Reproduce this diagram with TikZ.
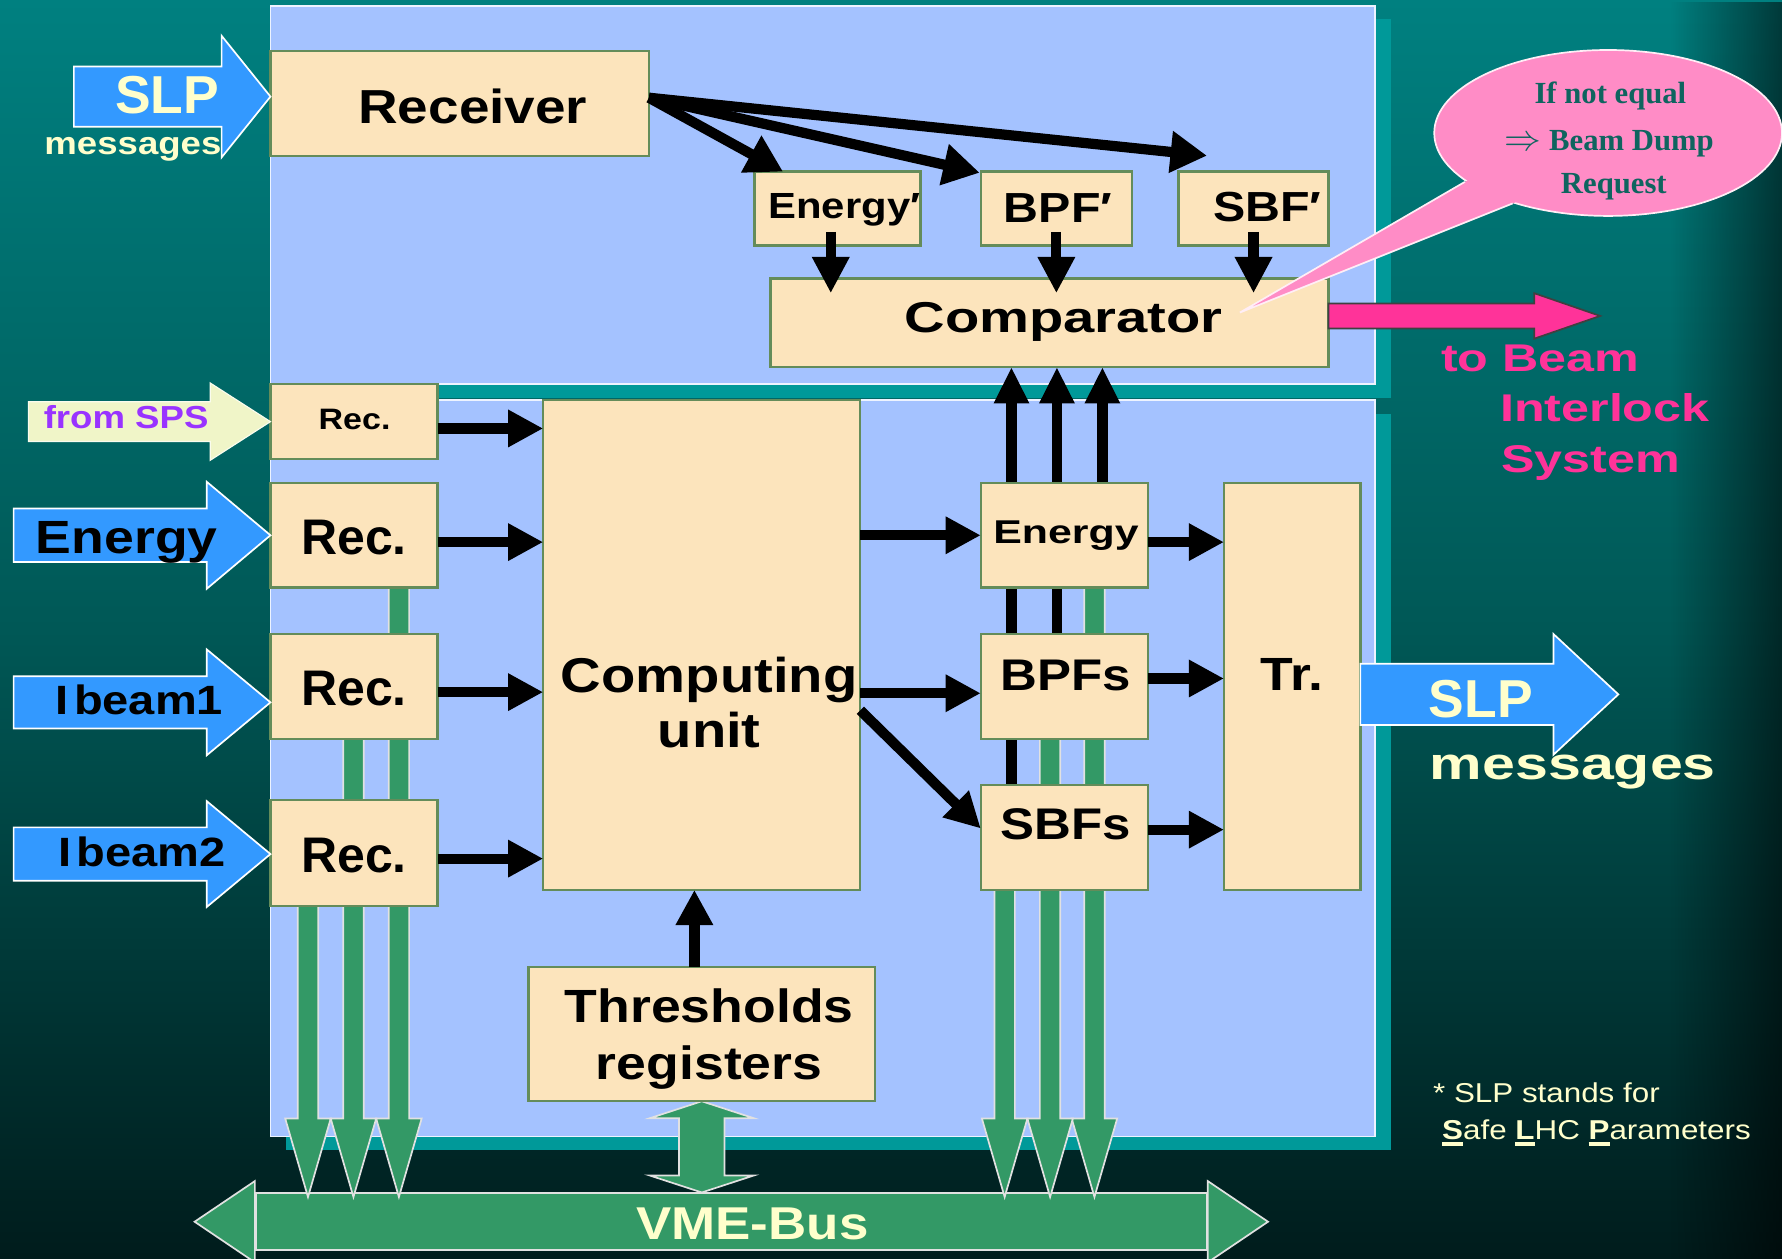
\documentclass[tikz,border=0pt]{standalone}
\usepackage{fontspec}
\usepackage{graphicx}
\setmainfont{Liberation Sans}
\newfontfamily\wide{Liberation Sans}[FakeStretch=1.15]
\newfontfamily\wider{Liberation Sans}[FakeStretch=1.3]
\newfontfamily\tms{Liberation Serif}
\usetikzlibrary{arrows.meta,calc,fadings}
\pgfdeclarelayer{bglayer}
\pgfsetlayers{bglayer,main}
\definecolor{bgtop}{RGB}{0,128,128}
\definecolor{bgmid}{RGB}{0,88,86}
\definecolor{bgbot}{RGB}{0,28,28}
\definecolor{panelblue}{RGB}{164,194,255}
\definecolor{shadowteal}{RGB}{0,153,153}
\definecolor{boxfill}{RGB}{252,228,188}
\definecolor{boxline}{RGB}{100,140,90}
\definecolor{busgreen}{RGB}{51,153,102}
\definecolor{busline}{RGB}{225,225,225}
\definecolor{arrowblue}{RGB}{51,153,255}
\definecolor{lightyel}{RGB}{255,255,204}
\definecolor{hotpink}{RGB}{255,51,153}
\definecolor{calloutpink}{RGB}{255,140,198}
\definecolor{callouttext}{RGB}{15,100,95}
\definecolor{spspurple}{RGB}{153,51,255}
\definecolor{spsyel}{RGB}{240,245,200}
\tikzfading[name=darkright, left color=transparent!100, right color=transparent!0]
\newcommand\fsz[1]{\fontsize{#1}{#1}\selectfont}
% block arrow: style, tip, total length, body half, head half, head length
\newcommand\blockarrow[6]{\path[#1] let \p1=(#2) in (\x1,\y1) -- (\x1-#6,\y1+#5) -- (\x1-#6,\y1+#4) -- (\x1-#3,\y1+#4) -- (\x1-#3,\y1-#4) -- (\x1-#6,\y1-#4) -- (\x1-#6,\y1-#5) -- cycle;}
\newcommand\busdown[1]{\path[busshape] let \p1=(#1), \p2=(vme.north) in (\x1-9pt,\y1) -- (\x1-9pt,\y2+65pt) -- (\x1-20pt,\y2+65pt) -- (\x1,\y2-4pt) -- (\x1+20pt,\y2+65pt) -- (\x1+9pt,\y2+65pt) -- (\x1+9pt,\y1) -- cycle;}
\newcommand\ulb[1]{\setbox0\hbox{\bfseries #1}\rlap{\rule[-5pt]{\wd0}{3pt}}\box0}
\begin{document}
\begin{tikzpicture}[x=1pt,y=-1pt,
  box/.style={rectangle, draw=boxline, fill=boxfill, line width=2pt, inner sep=0pt, outer sep=0pt},
  tx/.style={anchor=base, inner sep=0pt, outer sep=0pt},
  txl/.style={anchor=base west, inner sep=0pt, outer sep=0pt},
  panel/.style={fill=panelblue, draw=white!80!panelblue, line width=1.5pt},
  shadowbox/.style={fill=shadowteal},
  busshape/.style={fill=busgreen, draw=busline, line width=1.5pt, line join=miter},
  blk/.style={line width=9pt, -{Triangle[length=31pt,width=31pt]}},
  diag/.style={line width=9pt, -{Triangle[length=32pt,width=35pt]}},
  inarrow/.style={fill=arrowblue, draw=white, line width=1.5pt},
  spsarrow/.style={fill=spsyel, draw=white!70!spsyel, line width=1pt},
  pinkarrow/.style={fill=hotpink, draw=black!75, line width=1.5pt},
  callout/.style={fill=calloutpink},
  calloutedge/.style={draw=white!85!calloutpink, line width=1.5pt}
]
\useasboundingbox (0,0) rectangle (1568,1107);
\clip (0,0) rectangle (1568,1107);

\begin{pgfonlayer}{bglayer}
  \shade[top color=bgtop, bottom color=bgbot, middle color=bgmid] (0,0) rectangle (1568,1107);
  \fill[black, opacity=0.55, path fading=darkright] (1470,0) rectangle (1568,1107);
  \fill[shadowbox] (252,17) rectangle (1224,350);
  \path[panel] (238,5) rectangle (1210,338);
  \fill[shadowbox] (252,364) rectangle (1224,1012);
  \path[panel] (238,352) rectangle (1210,1000);
\end{pgfonlayer}

% ---- boxes ----
\node[box, minimum width=333pt, minimum height=92pt] (receiver) at (404.5,91) {};
\node[box, minimum width=146pt, minimum height=65pt] (energyp) at (737,183.5) {};
\node[box, minimum width=133pt, minimum height=65pt] (bpfp) at (929.5,183.5) {};
\node[box, minimum width=132pt, minimum height=65pt] (sbfp) at (1103,183.5) {};
\node[box, minimum width=491pt, minimum height=78pt] (comparator) at (923.5,284) {};
\node[box, minimum width=147pt, minimum height=66pt] (recsps) at (311.5,371) {};
\node[box, minimum width=147pt, minimum height=92pt] (recE) at (311.5,471) {};
\node[box, minimum width=147pt, minimum height=92pt] (recI1) at (311.5,604) {};
\node[box, minimum width=147pt, minimum height=93pt] (recI2) at (311.5,750.5) {};
\node[box, minimum width=279pt, minimum height=431pt] (compu) at (617.5,567.5) {};
\node[box, minimum width=305pt, minimum height=118pt] (thr) at (617.5,910) {};
\node[box, minimum width=147pt, minimum height=92pt] (energy) at (936.5,471) {};
\node[box, minimum width=147pt, minimum height=92pt] (bpfs) at (936.5,604) {};
\node[box, minimum width=147pt, minimum height=92pt] (sbfs) at (936.5,737) {};
\node[box, minimum width=120pt, minimum height=358pt] (tr) at (1137,604) {};

\begin{pgfonlayer}{bglayer}
  % VME bus
  \node[busshape, minimum width=837pt, minimum height=50pt, inner sep=0pt] (vme) at (643.5,1075) {};
  \path[busshape] ($(vme.north west)+(0,-10)$) -- ($(vme.west)+(-53,0)$) -- ($(vme.south west)+(0,10)$) -- cycle;
  \path[busshape] ($(vme.north east)+(0,-10)$) -- ($(vme.east)+(53,0)$) -- ($(vme.south east)+(0,10)$) -- cycle;
  % green bus connections
  \busdown{$(recE.center)+(39.5,0)$}
  \busdown{$(recI1.center)+(-0.5,0)$}
  \busdown{$(recI2.center)+(-40.5,0)$}
  \busdown{$(energy.center)+(26.5,0)$}
  \busdown{$(bpfs.center)+(-12.5,0)$}
  \busdown{$(sbfs.center)+(-52.5,0)$}
  % thresholds <-> VME
  \path[busshape] let \p1=(thr.south), \p2=(vme.north) in
    (\x1,\y1) -- (\x1+46pt,\y1-15pt) -- (\x1+20pt,\y1-15pt) -- (\x1+20pt,\y2+15pt) -- (\x1+46pt,\y2+15pt) -- (\x1,\y2)
    -- (\x1-46pt,\y2+15pt) -- (\x1-20pt,\y2+15pt) -- (\x1-20pt,\y1-15pt) -- (\x1-46pt,\y1-15pt) -- cycle;
  % filters up to comparator
  \draw[blk, -{Triangle[length=32pt,width=29pt]}] ($(sbfs.center)+(-46.5,0)$) -- ($(sbfs.center |- comparator.south)+(-46.5,0)$);
  \draw[blk, -{Triangle[length=32pt,width=29pt]}] ($(bpfs.center)+(-6.5,0)$) -- ($(bpfs.center |- comparator.south)+(-6.5,0)$);
  \draw[blk, -{Triangle[length=32pt,width=29pt]}] ($(energy.center)+(33.5,0)$) -- ($(energy.center |- comparator.south)+(33.5,0)$);
\end{pgfonlayer}

% ---- black connectors ----
\coordinate (rxout) at ($(receiver.east)+(0,-5)$);
\draw[diag] (rxout) -- ($(energyp.north west)+(25,0)$);
\draw[diag] (rxout) -- ($(bpfp.north west)+(-1,1)$);
\draw[diag] (rxout) -- ($(sbfp.north west)+(25,-14)$);
\draw[blk, -{Triangle[length=32pt,width=31pt]}] ($(energyp.south)+(-6,-12)$) -- ($(energyp.south |- comparator.north)+(-6,13)$);
\draw[blk, -{Triangle[length=32pt,width=31pt]}] ($(bpfp.south)+(0,-12)$) -- ($(bpfp.south |- comparator.north)+(0,13)$);
\draw[blk, -{Triangle[length=32pt,width=31pt]}] ($(sbfp.south)+(0,-12)$) -- ($(sbfp.south |- comparator.north)+(0,13)$);
\draw[blk] ($(recsps.east)+(0,6)$) -- ($(recsps.east -| compu.west)+(0,6)$);
\draw[blk] ($(recE.east)+(0,6)$) -- ($(recE.east -| compu.west)+(0,6)$);
\draw[blk] ($(recI1.east)+(0,5)$) -- ($(recI1.east -| compu.west)+(0,5)$);
\draw[blk] ($(recI2.east)+(0,5)$) -- ($(recI2.east -| compu.west)+(0,5)$);
\draw[blk] (compu.east |- energy.west) -- (energy.west);
\draw[blk] ($(compu.east |- bpfs.west)+(0,6)$) -- ($(bpfs.west)+(0,6)$);
\draw[blk] ($(compu.east |- bpfs.west)+(0,21)$) -- ($(sbfs.west)+(0,-8)$);
\draw[blk] ($(energy.east)+(0,6)$) -- ($(energy.east -| tr.west)+(0,6)$);
\draw[blk] ($(bpfs.east)+(0,-7)$) -- ($(bpfs.east -| tr.west)+(0,-7)$);
\draw[blk] ($(sbfs.east)+(0,-7)$) -- ($(sbfs.east -| tr.west)+(0,-7)$);
\draw[blk] ($(thr.north)+(-6.5,0)$) -- ($(thr.north |- compu.south)+(-6.5,0)$);

% ---- block arrows ----
\blockarrow{inarrow}{$(receiver.west)+(0,-6)$}{173pt}{26.5pt}{53.5pt}{43pt}
\blockarrow{spsarrow}{recsps.west}{213pt}{17.5pt}{34pt}{53pt}
\blockarrow{inarrow}{recE.west}{226pt}{23.5pt}{47pt}{56pt}
\blockarrow{inarrow}{$(recI1.west)+(0,14)$}{226pt}{23pt}{46.5pt}{56pt}
\blockarrow{inarrow}{$(recI2.west)+(0,1)$}{226pt}{23.5pt}{46.5pt}{56pt}
\blockarrow{inarrow}{$(tr.east)+(227,7)$}{227pt}{27pt}{53pt}{57pt}
\blockarrow{pinkarrow}{$(comparator.east)+(239,-6)$}{239pt}{11pt}{20pt}{58pt}

% ---- callout ----
\coordinate (calltip) at ($(comparator.north east)+(-78,30)$);
\path[callout, calloutedge] (1415,117) ellipse [x radius=153, y radius=73];
\fill[callout] (1309,148.5) -- (calltip) -- (1355,169.4) -- cycle;
\draw[calloutedge] (1289,160) -- (calltip) -- (1331,179);

% ---- texts ----
\node[tx, font=\wide\bfseries\fsz{42}] (receiverT) at (416,108.5) {Receiver};
\node[tx, font=\wide\bfseries\fsz{32}] (energypT) at (743,192) {Energy′};
\node[tx, font=\wide\bfseries\fsz{37}] (bpfpT) at (931,196) {BPF′};
\node[tx, font=\wide\bfseries\fsz{37}] (sbfpT) at (1115,195) {SBF′};
\node[tx, font=\wider\bfseries\fsz{38}] (comparatorT) at (936,293) {Comparator};
\node[tx, font=\wide\bfseries\fsz{26}] (recspsT) at (312,378) {Rec.};
\node[tx, font=\bfseries\fsz{44}] (recET) at (311.5,488) {Rec.};
\node[tx, font=\bfseries\fsz{44}] (recI1T) at (311.5,621) {Rec.};
\node[tx, font=\bfseries\fsz{44}] (recI2T) at (311.5,768) {Rec.};
\node[tx, font=\wide\bfseries\fsz{43}] (compuT1) at (624,609) {Computing};
\node[tx, font=\wide\bfseries\fsz{43}] (compuT2) at (624,658) {unit};
\node[tx, font=\wide\bfseries\fsz{41}] (thrT1) at (624,900) {Thresholds};
\node[tx, font=\wide\bfseries\fsz{41}] (thrT2) at (624,950) {registers};
\node[tx, font=\wider\bfseries\fsz{29}] (energyT) at (938,478) {Energy};
\node[tx, font=\wide\bfseries\fsz{39}] (bpfsT) at (938,607.5) {BPFs};
\node[tx, font=\wide\bfseries\fsz{39}] (sbfsT) at (938,739) {SBFs};
\node[tx, font=\wide\bfseries\fsz{41}] (trT) at (1137,607.5) {Tr.};
\node[tx, font=\wide\bfseries\fsz{40.5}, text=lightyel] (vmeT) at (662,1091) {VME-Bus};

\node[tx, font=\bfseries\fsz{47}, text=lightyel] (slpinT) at (147,99.7) {SLP};
\node[tx, font=\wide\bfseries\fsz{28}, text=lightyel] (msginT) at (117,136) {messages};
\node[tx, font=\wide\bfseries\fsz{28}, text=spspurple] (spsT) at (111,377) {from SPS};
\node[tx, font=\wide\bfseries\fsz{41}] (energyinT) at (111.5,487) {Energy};
\node[tx, font=\wide\bfseries\fsz{36}] (ibeam1T) at (122.5,629) {I\kern5pt beam1};
\node[tx, font=\wide\bfseries\fsz{36}] (ibeam2T) at (125,762) {I\kern5pt beam2};
\node[tx, font=\bfseries\fsz{47}, text=lightyel] (slpoutT) at (1303,631) {SLP};
\node[tx, font=\wider\bfseries\fsz{40}, text=lightyel] (msgoutT) at (1384,686) {messages};

\node[txl, font=\wider\bfseries\fsz{34}, text=hotpink] (bisT1) at (1268,327) {to Beam};
\node[txl, font=\wider\bfseries\fsz{34}, text=hotpink] (bisT2) at (1320,371) {Interlock};
\node[txl, font=\wider\bfseries\fsz{34}, text=hotpink] (bisT3) at (1321,416) {System};

\node[tx, font=\tms\bfseries\fsz{27}, text=callouttext] (callT1) at (1417,90.8) {If not equal};
\node[tx, font=\tms\bfseries\fsz{27}, text=callouttext] (callT2) at (1416,132) {\scalebox{1.3}{$\Rightarrow$} Beam Dump};
\node[tx, font=\tms\bfseries\fsz{27}, text=callouttext] (callT3) at (1420,170) {Request};

\node[txl, font=\wide\fsz{24}, text=lightyel] (noteT1) at (1261,970) {* SLP stands for};
\node[txl, font=\wide\fsz{24}, text=lightyel] (noteT2) at (1269,1003) {\ulb{S}afe \ulb{L}HC \ulb{P}arameters};
\end{tikzpicture}
\end{document}
